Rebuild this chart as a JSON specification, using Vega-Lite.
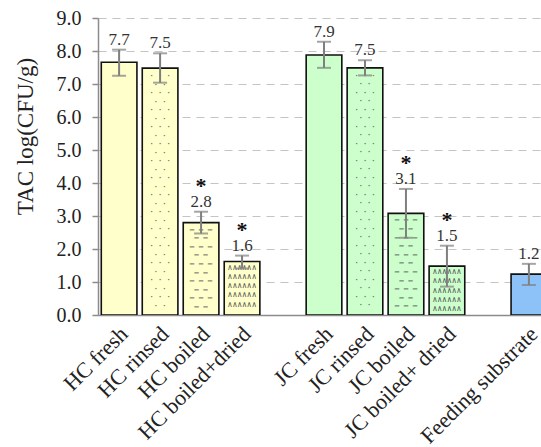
{
  "$schema": "https://vega.github.io/schema/vega-lite/v6.json",
  "autosize": "none",
  "padding": {"left": 98, "top": 18, "right": 0, "bottom": 132},
  "width": 443,
  "height": 297,
  "background": "white",
  "config": {
    "view": {"stroke": null},
    "axis": {
      "labelFont": "Liberation Serif",
      "labelColor": "#222222",
      "titleFont": "Liberation Serif",
      "titleColor": "#222222",
      "domainColor": "#8c8c8c",
      "domainWidth": 1.5,
      "tickColor": "#8c8c8c",
      "tickWidth": 1.5
    }
  },
  "resolve": {"axis": {"y": "independent"}},
  "data": {
    "values": [
      {"cat": "HC fresh", "group": "HC", "treatment": "fresh", "mean": 7.66, "lo": 7.25, "hi": 8.04, "sig": ""},
      {"cat": "HC rinsed", "group": "HC", "treatment": "rinsed", "mean": 7.48, "lo": 7.04, "hi": 7.93, "sig": ""},
      {"cat": "HC boiled", "group": "HC", "treatment": "boiled", "mean": 2.8, "lo": 2.47, "hi": 3.13, "sig": "*"},
      {"cat": "HC boiled+dried", "group": "HC", "treatment": "dried", "mean": 1.62, "lo": 1.41, "hi": 1.8, "sig": "*"},
      {"cat": "JC fresh", "group": "JC", "treatment": "fresh", "mean": 7.88, "lo": 7.49, "hi": 8.28, "sig": ""},
      {"cat": "JC rinsed", "group": "JC", "treatment": "rinsed", "mean": 7.49, "lo": 7.26, "hi": 7.72, "sig": ""},
      {"cat": "JC boiled", "group": "JC", "treatment": "boiled", "mean": 3.08, "lo": 2.34, "hi": 3.82, "sig": "*"},
      {"cat": "JC boiled+ dried", "group": "JC", "treatment": "dried", "mean": 1.48, "lo": 0.86, "hi": 2.1, "sig": "*"},
      {"cat": "Feeding substrate", "group": "FS", "treatment": "fresh", "mean": 1.24, "lo": 0.91, "hi": 1.55, "sig": ""}
    ]
  },
  "encoding": {
    "x": {
      "field": "cat",
      "type": "nominal",
      "sort": null,
      "scale": {
        "domain": ["HC fresh", "HC rinsed", "HC boiled", "HC boiled+dried", "gap1", "JC fresh", "JC rinsed", "JC boiled", "JC boiled+ dried", "gap2", "Feeding substrate"],
        "range": [0, 452],
        "paddingInner": 0.13,
        "paddingOuter": 0.08
      },
      "axis": {
        "title": null,
        "labelExpr": "indexof(datum.value, 'gap') == 0 ? '' : datum.value",
        "labelFont": "Liberation Serif",
        "labelFontSize": 22,
        "labelAngle": -45,
        "labelOverlap": false,
        "labelPadding": 8,
        "labelOffset": -2,
        "ticks": false,
        "grid": false
      }
    }
  },
  "layer": [
    {
      "mark": {"type": "bar", "stroke": "#111111", "strokeWidth": 1.6, "clip": true},
      "encoding": {
        "y": {
          "field": "mean",
          "type": "quantitative",
          "scale": {"domain": [0, 9], "nice": false, "zero": true},
          "axis": {
            "title": "TAC log(CFU/g)",
            "titleFont": "Liberation Serif",
            "titleFontSize": 23,
            "titleFontWeight": "normal",
            "titleAngle": -90,
            "titleAlign": "center",
            "titleBaseline": "middle",
            "titleX": -73,
            "titleY": 118,
            "values": [0, 1, 2, 3, 4, 5, 6, 7, 8, 9],
            "format": ".1f",
            "labelFont": "Liberation Serif",
            "labelFontSize": 20,
            "labelPadding": 11,
            "labelOverlap": false,
            "tickSize": 6,
            "grid": true,
            "gridColor": "#c4c4c4",
            "gridDash": [8, 6],
            "gridWidth": 1.2
          }
        },
        "fill": {
          "field": "group",
          "type": "nominal",
          "scale": {"domain": ["HC", "JC", "FS"], "range": ["#FFFFCC", "#CCFFCC", "#8CC2F7"]},
          "legend": null
        }
      }
    },
    {
      "transform": [{"filter": "datum.treatment == 'rinsed'"}],
      "mark": {
        "type": "text", "font": "DejaVu Sans Mono", "fontSize": 7, "fontWeight": "bold", "color": "#707070",
        "baseline": "top", "align": "center", "dy": 4, "lineHeight": 8.5,
        "text": ["·  ·  ·", "·  ·", "·  ·  ·", "·  ·", "·  ·  ·", "·  ·", "·  ·  ·", "·  ·", "·  ·  ·", "·  ·", "·  ·  ·", "·  ·", "·  ·  ·", "·  ·", "·  ·  ·", "·  ·", "·  ·  ·", "·  ·", "·  ·  ·", "·  ·", "·  ·  ·", "·  ·", "·  ·  ·", "·  ·", "·  ·  ·", "·  ·", "·  ·  ·", "·  ·"]
      },
      "encoding": {"y": {"field": "mean", "type": "quantitative", "axis": null}}
    },
    {
      "transform": [{"filter": "datum.cat == 'HC boiled'"}],
      "mark": {
        "type": "text", "font": "DejaVu Sans Mono", "fontSize": 7.5, "fontWeight": "bold", "color": "#5a5a5a",
        "baseline": "top", "align": "center", "dy": 3, "lineHeight": 8.6,
        "text": ["— — —", "— —", "— — —", "— —", "— — —", "— —", "— — —", "— —", "— — —", "— —"]
      },
      "encoding": {"y": {"field": "mean", "type": "quantitative", "axis": null}}
    },
    {
      "transform": [{"filter": "datum.cat == 'JC boiled'"}],
      "mark": {
        "type": "text", "font": "DejaVu Sans Mono", "fontSize": 7.5, "fontWeight": "bold", "color": "#5a5a5a",
        "baseline": "top", "align": "center", "dy": 3, "lineHeight": 8.6,
        "text": ["— — —", "— —", "— — —", "— —", "— — —", "— —", "— — —", "— —", "— — —", "— —", "— — —"]
      },
      "encoding": {"y": {"field": "mean", "type": "quantitative", "axis": null}}
    },
    {
      "transform": [{"filter": "datum.treatment == 'dried'"}],
      "mark": {
        "type": "text", "font": "DejaVu Sans Mono", "fontSize": 8, "color": "#555555",
        "baseline": "top", "align": "center", "dy": 2, "lineHeight": 9.3,
        "text": ["∧∧∧∧∧∧", "∧∧∧∧∧∧", "∧∧∧∧∧∧", "∧∧∧∧∧∧", "∧∧∧∧∧∧"]
      },
      "encoding": {"y": {"field": "mean", "type": "quantitative", "axis": null}}
    },
    {
      "mark": {"type": "rule", "color": "#7f7f7f", "strokeWidth": 2},
      "encoding": {
        "y": {"field": "lo", "type": "quantitative", "axis": null},
        "y2": {"field": "hi"}
      }
    },
    {
      "mark": {"type": "tick", "color": "#7f7f7f", "thickness": 2, "size": 14, "orient": "horizontal"},
      "encoding": {"y": {"field": "lo", "type": "quantitative", "axis": null}}
    },
    {
      "mark": {"type": "tick", "color": "#7f7f7f", "thickness": 2, "size": 14, "orient": "horizontal"},
      "encoding": {"y": {"field": "hi", "type": "quantitative", "axis": null}}
    },
    {
      "mark": {"type": "text", "font": "Liberation Serif", "fontSize": 17, "color": "#333333", "baseline": "alphabetic", "dy": -5},
      "encoding": {
        "y": {"field": "hi", "type": "quantitative", "axis": null},
        "text": {"field": "mean", "type": "quantitative", "format": ".1f"}
      }
    },
    {
      "transform": [{"filter": "datum.sig != ''"}],
      "mark": {"type": "text", "font": "Liberation Serif", "fontSize": 22, "fontWeight": "bold", "color": "#111111", "baseline": "alphabetic", "dy": -19},
      "encoding": {
        "y": {"field": "hi", "type": "quantitative", "axis": null},
        "text": {"field": "sig", "type": "nominal"}
      }
    }
  ]
}
